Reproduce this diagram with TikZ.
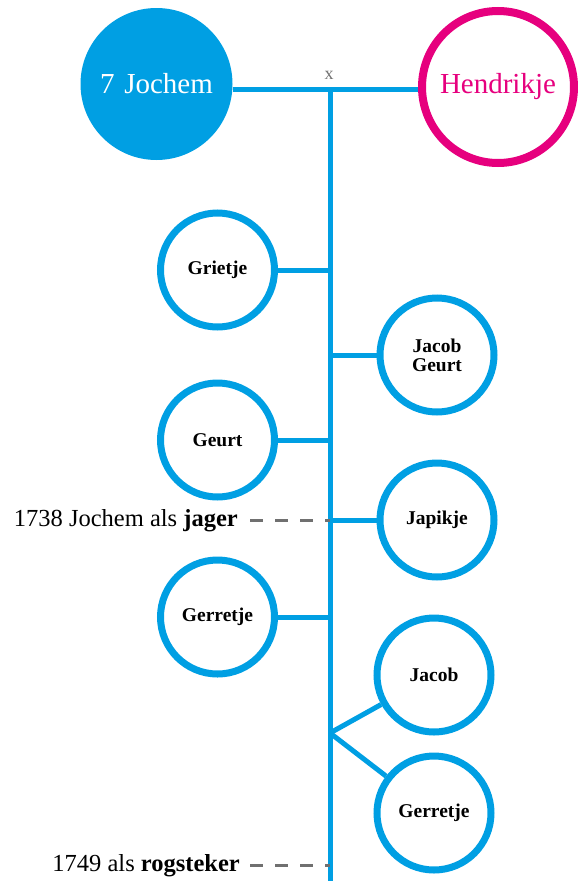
\documentclass[tikz,border=0pt]{standalone}
\usepackage{fontspec}
\setmainfont{Liberation Serif}
\definecolor{cblue}{HTML}{009FE3}
\definecolor{cmag}{HTML}{E6007E}
\definecolor{cgray}{HTML}{707070}
\begin{document}
\begin{tikzpicture}[x=1pt,y=-1pt,
  child/.style={circle,draw=cblue,line width=7pt,minimum size=114pt,inner sep=0pt,align=center,font=\fontsize{19.5}{21}\selectfont\bfseries},
  link/.style={draw=cblue,line width=5pt},
  dashlink/.style={draw=cgray,line width=3pt,dash pattern=on 13pt off 12pt},
  lab/.style={anchor=east,inner sep=0pt,font=\fontsize{24.5}{28}\selectfont}]
\useasboundingbox (0,0) rectangle (578,881);
\coordinate (top) at (330,89);
\coordinate (bot) at (330,881);
\coordinate (fork) at (330,733);
\node[circle,fill=cblue,minimum size=152pt,inner sep=0pt,text=white,font=\fontsize{29}{32}\selectfont] (jochem) at (156.5,84) {7\,\,Jochem};
\node[circle,draw=cmag,line width=8pt,minimum size=152pt,inner sep=0pt,text=cmag,font=\fontsize{29}{32}\selectfont] (hendrikje) at (498,87) {Hendrikje};
\node[text=cgray,font=\fontsize{18}{20}\selectfont,inner sep=0pt] (x) at (329,75) {x};
\draw[link] (top -| jochem.east) -- (top -| hendrikje.west);
\draw[link] (top) -- (bot);
\node[child] (grietje) at (217.5,270) {Grietje};
\node[child] (jacobgeurt) at (437,355) {Jacob\\[-2pt]Geurt};
\node[child] (geurt) at (217.5,440) {Geurt};
\node[child] (japikje) at (437,520) {Japikje};
\node[child] (gerretjeL) at (217.5,617) {Gerretje};
\node[child] (jacob) at (434,675) {Jacob};
\node[child] (gerretjeR) at (434,813) {Gerretje};
\draw[link] (grietje.east) -- (grietje.east -| top);
\draw[link] (jacobgeurt.west) -- (jacobgeurt.west -| top);
\draw[link] (geurt.east) -- (geurt.east -| top);
\draw[link] (japikje.west) -- (japikje.west -| top);
\draw[link] (gerretjeL.east) -- (gerretjeL.east -| top);
\draw[link] (fork) -- (jacob);
\draw[link] (fork) -- (gerretjeR);
\node[lab] (l1738) at (238,521) {1738 Jochem als \textbf{jager}};
\node[lab] (l1749) at (240,866) {1749 als \textbf{rogsteker}};
\coordinate (d1) at (330,520);
\coordinate (d2) at (330,865);
\draw[dashlink] (250,520) -- (d1);
\draw[dashlink] (250,865) -- (d2);
\end{tikzpicture}
\end{document}
